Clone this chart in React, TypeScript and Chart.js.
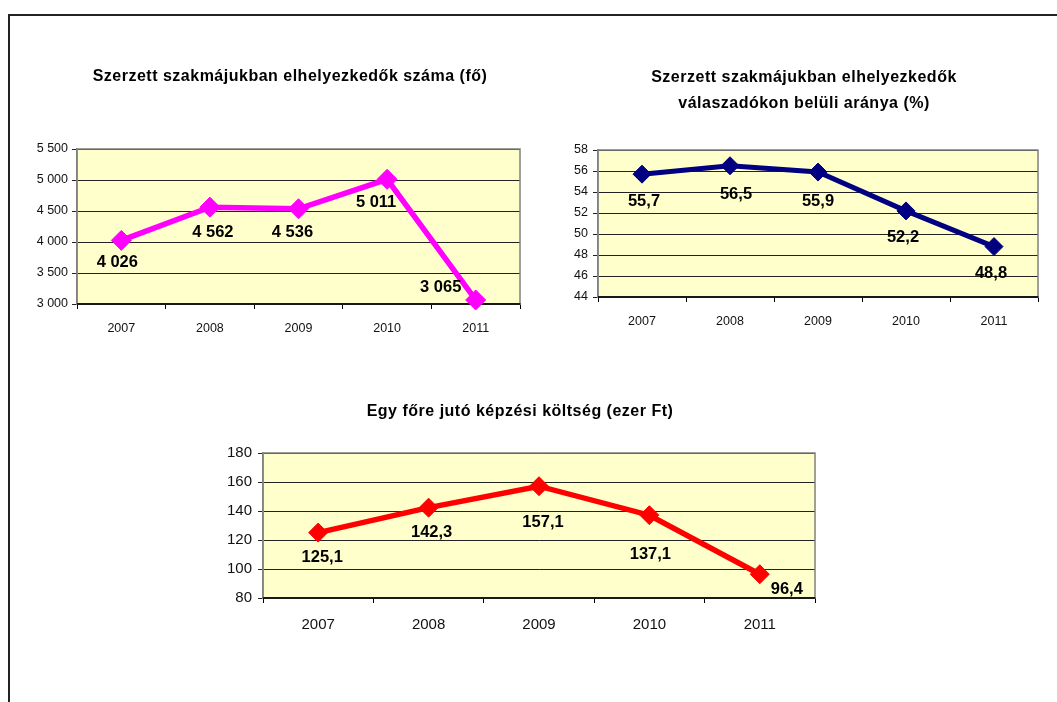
import React, { useEffect, useRef } from "react";
import { Chart, registerables } from "chart.js";

Chart.register(...registerables);

// ---- data ----
const years = ["2007", "2008", "2009", "2010", "2011"];
const employedCount = [4026, 4562, 4536, 5011, 3065];
const employedShare = [55.7, 56.5, 55.9, 52.2, 48.8];
const costPerPerson = [125.1, 142.3, 157.1, 137.1, 96.4];

const countTitle = ["Szerzett szakmájukban elhelyezkedők száma (fő)"];
const shareTitle = ["Szerzett szakmájukban elhelyezkedők", "válaszadókon belüli aránya (%)"];
const costTitle = ["Egy főre jutó képzési költség (ezer Ft)"];

const countAxis = { min: 3000, max: 5500, step: 500 };
const shareAxis = { min: 44, max: 58, step: 2 };
const costAxis = { min: 80, max: 180, step: 20 };

// label placement relative to each point (dx, dy)
const countLabelOffsets = [[-4, 22], [3, 25], [-6, 24], [-11, 23], [-35, -13]];
const shareLabelOffsets = [[2, 27], [6, 29], [0, 29], [-3, 27], [-3, 27]];
const costLabelOffsets = [[4, 25], [3, 25], [4, 36], [1, 39], [27, 15]];

const FONT = '"Liberation Sans", Arial, sans-serif';

const fmtThousands = (v: number) => String(Math.round(v)).replace(/\B(?=(\d{3})+(?!\d))/g, " ");
const fmtDecimal = (v: number) => v.toFixed(1).replace(".", ",");

type Spec = {
  left: number;
  top: number;
  width: number;
  height: number;
  values: number[];
  color: string;
  axis: { min: number; max: number; step: number };
  title: string[];
  titleX: number;
  titleY: number[];
  titleSize: number;
  padTop: number;
  padRight: number;
  yWidth: number;
  xHeight: number;
  tickFont: number;
  yPad: number;
  xPad: number;
  labelFmt: (v: number) => string;
  tickFmt: (v: number) => string;
  offsets: number[][];
  labelSize: number;
  pointRadius: number;
  lineWidth: number;
};

function LineChart({ spec }: { spec: Spec }) {
  const ref = useRef<HTMLCanvasElement | null>(null);
  useEffect(() => {
    if (!ref.current) return;
    const s = spec;
    const decor = {
      id: "decor",
      beforeDraw(chart: any) {
        const { ctx, chartArea: a } = chart;
        ctx.save();
        ctx.fillStyle = "#FFFFCC";
        ctx.fillRect(a.left, a.top, a.right - a.left, a.bottom - a.top);
        ctx.restore();
      },
      beforeDatasetsDraw(chart: any) {
        const { ctx, chartArea: a } = chart;
        ctx.save();
        ctx.strokeStyle = "#808080";
        ctx.lineWidth = 1.5;
        ctx.strokeRect(a.left, a.top, a.right - a.left, a.bottom - a.top);
        ctx.strokeStyle = "#000000";
        ctx.lineWidth = 1.5;
        ctx.beginPath();
        ctx.moveTo(a.left, a.bottom);
        ctx.lineTo(a.right, a.bottom);
        ctx.stroke();
        ctx.restore();
      },
      afterDatasetsDraw(chart: any) {
        const { ctx } = chart;
        const meta = chart.getDatasetMeta(0);
        ctx.save();
        ctx.font = `bold ${s.labelSize}px ${FONT}`;
        ctx.fillStyle = "#000000";
        ctx.textAlign = "center";
        ctx.textBaseline = "middle";
        meta.data.forEach((pt: any, i: number) => {
          const [dx, dy] = s.offsets[i];
          ctx.fillText(s.labelFmt(s.values[i]), pt.x + dx, pt.y + dy);
        });
        ctx.restore();
      },
      afterDraw(chart: any) {
        const { ctx } = chart;
        ctx.save();
        ctx.font = `bold ${s.titleSize}px ${FONT}`;
        (ctx as any).letterSpacing = "0.5px";
        ctx.fillStyle = "#000000";
        ctx.textAlign = "center";
        ctx.textBaseline = "middle";
        s.title.forEach((line, i) => ctx.fillText(line, s.titleX, s.titleY[i]));
        ctx.restore();
      },
    };

    const chart = new Chart(ref.current, {
      type: "line",
      data: {
        labels: years,
        datasets: [
          {
            data: s.values,
            borderColor: s.color,
            backgroundColor: s.color,
            borderWidth: s.lineWidth,
            pointStyle: "rectRot",
            pointRadius: s.pointRadius,
            pointHoverRadius: s.pointRadius,
            pointBackgroundColor: s.color,
            pointBorderColor: s.color,
            pointBorderWidth: 1,
            tension: 0,
            clip: false as any,
          },
        ],
      },
      options: {
        animation: false,
        responsive: false,
        devicePixelRatio: 1,
        layout: { padding: { top: s.padTop, right: s.padRight, left: 0, bottom: 0 } },
        plugins: {
          legend: { display: false },
          title: { display: false },
          tooltip: { enabled: false },
        },
        events: [],
        scales: {
          x: {
            type: "category",
            offset: true,
            grid: {
              offset: true,
              drawOnChartArea: false,
              drawTicks: true,
              tickLength: 5,
              color: "#000000",
              lineWidth: 1,
            },
            border: { display: true, color: "#000000", width: 1.5 },
            ticks: {
              color: "#111111",
              font: { family: FONT, size: s.tickFont },
              padding: s.xPad,
              maxRotation: 0,
            },
            afterFit: (scale: any) => {
              scale.height = s.xHeight;
            },
          },
          y: {
            min: s.axis.min,
            max: s.axis.max,
            grid: {
              color: "#222222",
              lineWidth: 1,
              drawTicks: true,
              tickLength: 5,
            },
            border: { display: true, color: "#808080", width: 1.5 },
            ticks: {
              stepSize: s.axis.step,
              color: "#111111",
              font: { family: FONT, size: s.tickFont },
              padding: s.yPad,
              callback: (v: any) => s.tickFmt(Number(v)),
            },
            afterFit: (scale: any) => {
              scale.width = s.yWidth;
            },
          },
        },
      },
      plugins: [decor],
    });
    return () => chart.destroy();
  }, [spec]);

  return (
    <canvas
      ref={ref}
      width={spec.width}
      height={spec.height}
      style={{
        position: "absolute",
        left: spec.left,
        top: spec.top,
        width: spec.width,
        height: spec.height,
      }}
    />
  );
}

const specs: Spec[] = [
  {
    left: 20,
    top: 50,
    width: 520,
    height: 300,
    values: employedCount,
    color: "#FF00FF",
    axis: countAxis,
    title: countTitle,
    titleX: 270,
    titleY: [27],
    titleSize: 16,
    padTop: 99,
    padRight: 20,
    yWidth: 57,
    xHeight: 46,
    tickFont: 12.5,
    yPad: 4,
    xPad: 12,
    labelFmt: fmtThousands,
    tickFmt: fmtThousands,
    offsets: countLabelOffsets,
    labelSize: 16.5,
    pointRadius: 10,
    lineWidth: 5.5,
  },
  {
    left: 540,
    top: 50,
    width: 517,
    height: 300,
    values: employedShare,
    color: "#000080",
    axis: shareAxis,
    title: shareTitle,
    titleX: 264,
    titleY: [28, 54],
    titleSize: 16,
    padTop: 100,
    padRight: 19,
    yWidth: 58,
    xHeight: 53,
    tickFont: 12.5,
    yPad: 5,
    xPad: 12,
    labelFmt: fmtDecimal,
    tickFmt: (v: number) => String(v),
    offsets: shareLabelOffsets,
    labelSize: 16.5,
    pointRadius: 9,
    lineWidth: 5,
  },
  {
    left: 200,
    top: 380,
    width: 640,
    height: 280,
    values: costPerPerson,
    color: "#FF0000",
    axis: costAxis,
    title: costTitle,
    titleX: 320,
    titleY: [32],
    titleSize: 16,
    padTop: 73,
    padRight: 25,
    yWidth: 63,
    xHeight: 62,
    tickFont: 15,
    yPad: 6,
    xPad: 13,
    labelFmt: fmtDecimal,
    tickFmt: (v: number) => String(v),
    offsets: costLabelOffsets,
    labelSize: 16.5,
    pointRadius: 9.5,
    lineWidth: 5.5,
  },
];

export default function App() {
  return (
    <div
      style={{
        position: "absolute",
        left: 0,
        top: 0,
        width: 1057,
        height: 702,
        overflow: "hidden",
        background: "#ffffff",
      }}
    >
      <div
        style={{
          position: "absolute",
          left: 8,
          top: 14,
          width: 1200,
          height: 900,
          borderTop: "2px solid #222",
          borderLeft: "2px solid #222",
        }}
      />
      {specs.map((s, i) => (
        <LineChart key={i} spec={s} />
      ))}
    </div>
  );
}
